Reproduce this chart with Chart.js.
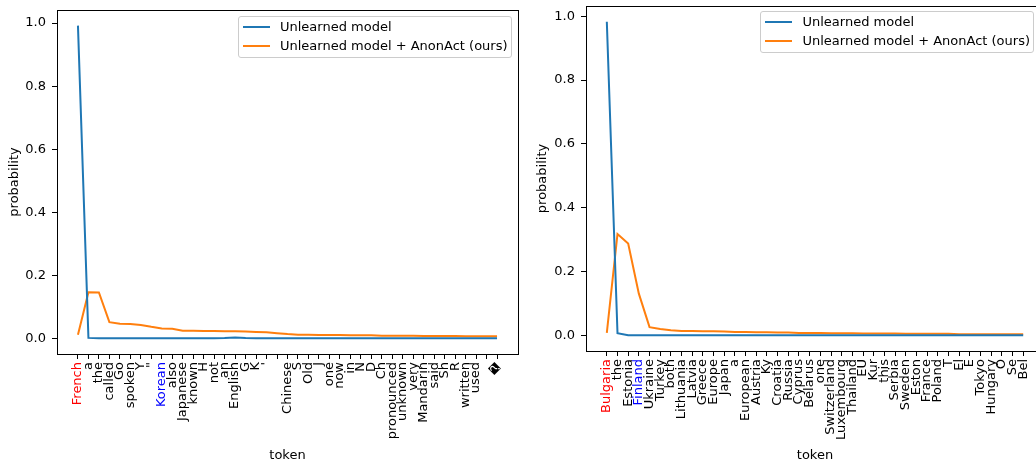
<!DOCTYPE html>
<html>
<head>
<meta charset="utf-8">
<script src="https://cdn.jsdelivr.net/npm/chart.js@4.4.0/dist/chart.umd.min.js"></script>
<style>
  html, body { margin: 0; padding: 0; background: #fff; }
  #stage { position: relative; width: 1036px; height: 461px; overflow: hidden; }
  canvas { position: absolute; top: 0; }
  #leftChart { left: 0; }
  #rightChart { left: 530px; }
  .legend { position: absolute; border: 1px solid #cccccc; border-radius: 3px; background: rgba(255,255,255,0.8);
            font: 13px "DejaVu Sans"; color: #000; padding: 0 3px 2px 4px; white-space: nowrap; }
  .legend .row { display: flex; align-items: center; height: 19px; }
  .legend .h { width: 27px; height: 0; border-top: 2px solid; margin-right: 10px; }
  #leftLegend { left: 238px; top: 16px; }
  #rightLegend { right: 2px; top: 11px; }
</style>
</head>
<body>
<div id="stage">
  <canvas id="leftChart" width="530" height="465"></canvas>
  <canvas id="rightChart" width="530" height="465"></canvas>
  <div class="legend" id="leftLegend"></div>
  <div class="legend" id="rightLegend"></div>
</div>
<script>
// series names and colours (matplotlib defaults)
const seriesNames = ['Unlearned model', 'Unlearned model + AnonAct (ours)'];
const seriesColors = ['#1f77b4', '#ff7f0e'];
const yTicks = [0, 0.2, 0.4, 0.6, 0.8, 1.0];

// left panel
const leftTokens = ['French', 'a', 'the', 'called', 'Go', 'spoken', 'Y', '"', 'Korean', 'also',
  'Japanese', 'known', 'H', 'not', 'an', 'English', 'G', 'K', "'", ' ',
  'Chinese', 'S', 'Old', 'J', 'one', 'now', 'in', 'N', 'D', 'Ch',
  'pronounced', 'unknown', 'very', 'Mandarin', 'said', 'Sh', 'R', 'written', 'used', ' ', '\uFFFD'];
const leftUnlearned = [0.992, 0.002, 0.001, 0.001, 0.001, 0.001, 0.001, 0.001, 0.001, 0.001,
  0.001, 0.001, 0.001, 0.001, 0.0015, 0.003, 0.0015, 0.001, 0.001, 0.001,
  0.001, 0.001, 0.0008, 0.0008, 0.0008, 0.0008, 0.0007, 0.0007, 0.0007, 0.0007,
  0.0006, 0.0006, 0.0006, 0.0006, 0.0006, 0.0005, 0.0005, 0.0005, 0.0005, 0.0005, 0.0005];
const leftAnonAct = [0.012, 0.147, 0.146, 0.052, 0.047, 0.046, 0.043, 0.037, 0.032, 0.031,
  0.025, 0.025, 0.024, 0.024, 0.023, 0.023, 0.022, 0.021, 0.020, 0.017,
  0.014, 0.012, 0.012, 0.011, 0.011, 0.011, 0.010, 0.010, 0.010, 0.009,
  0.009, 0.009, 0.009, 0.008, 0.008, 0.008, 0.008, 0.007, 0.007, 0.007, 0.007];
const leftRed = 0, leftBlue = 8;

// right panel
const rightTokens = ['Bulgaria', 'the', 'Estonia', 'Finland', 'Ukraine', 'Turkey', 'both', 'Lithuania', 'Latvia', 'Greece',
  'Europe', 'Japan', 'a', 'European', 'Austria', 'Ky', 'Croatia', 'Russia', 'Cyprus', 'Belarus',
  'one', 'Switzerland', 'Luxembourg', 'Thailand', 'EU', 'Kur', 'this', 'Serbia', 'Sweden', 'Eston',
  'France', 'Poland', 'T', 'El', 'E', 'Tokyo', 'Hungary', 'O', 'Se', 'Bel'];
const rightUnlearned = [0.983, 0.007, 0.001, 0.0008, 0.0008, 0.0008, 0.0007, 0.0007, 0.0007, 0.0007,
  0.0006, 0.0006, 0.0006, 0.0006, 0.0006, 0.0005, 0.0005, 0.0005, 0.0005, 0.0005,
  0.0005, 0.0005, 0.0005, 0.0005, 0.0004, 0.0004, 0.0004, 0.0004, 0.0004, 0.0004,
  0.0004, 0.0004, 0.0004, 0.0004, 0.0004, 0.0004, 0.0004, 0.0004, 0.0004, 0.0004];
const rightAnonAct = [0.008, 0.318, 0.288, 0.131, 0.026, 0.020, 0.016, 0.014, 0.014, 0.013,
  0.013, 0.012, 0.011, 0.011, 0.010, 0.010, 0.009, 0.009, 0.008, 0.008,
  0.008, 0.007, 0.007, 0.007, 0.006, 0.006, 0.006, 0.006, 0.005, 0.005,
  0.005, 0.005, 0.005, 0.004, 0.004, 0.004, 0.004, 0.004, 0.004, 0.004];
const rightRed = 0, rightBlue = 3;

Chart.defaults.font.family = 'DejaVu Sans';
Chart.defaults.font.size = 13;
Chart.defaults.color = '#000';

// full box round the plot area, like matplotlib spines
const framePlugin = {
  id: 'frame',
  afterDraw(chart) {
    const { ctx, chartArea: a } = chart;
    ctx.save();
    ctx.strokeStyle = '#000';
    ctx.lineWidth = 1;
    ctx.strokeRect(Math.round(a.left) + 0.5, Math.round(a.top) + 0.5,
      Math.round(a.right - a.left), Math.round(a.bottom - a.top));
    ctx.restore();
  }
};

function makeChart(id, tokens, unlearned, anon, redIdx, blueIdx, geo) {
  const all = unlearned.concat(anon);
  const lo = Math.min(...all), hi = Math.max(...all);
  const pad = (hi - lo) * 0.05;
  const n = tokens.length - 1;
  const toPts = arr => arr.map((v, i) => ({ x: i, y: v }));

  return new Chart(document.getElementById(id), {
    type: 'line',
    data: {
      datasets: [
        { label: seriesNames[0], data: toPts(unlearned), borderColor: seriesColors[0], borderWidth: 2, pointRadius: 0, tension: 0 },
        { label: seriesNames[1], data: toPts(anon), borderColor: seriesColors[1], borderWidth: 2, pointRadius: 0, tension: 0 }
      ]
    },
    options: {
      responsive: false,
      animation: false,
      devicePixelRatio: 1,
      layout: { padding: { left: 0, top: geo.top, right: geo.right, bottom: 0 } },
      plugins: { legend: { display: false }, tooltip: { enabled: false } },
      scales: {
        x: {
          type: 'linear',
          min: -n * 0.05,
          max: n * 1.05,
          afterBuildTicks: axis => { axis.ticks = tokens.map((_, i) => ({ value: i })); },
          afterFit: scale => {
            scale.height = geo.xHeight;
            scale.paddingLeft = 0;
            scale.paddingRight = 0;
          },
          ticks: {
            autoSkip: false,
            minRotation: 90,
            maxRotation: 90,
            padding: 3,
            callback: v => tokens[v],
            color: c => c.index === redIdx ? '#ff0000' : (c.index === blueIdx ? '#0000ff' : '#000')
          },
          grid: { drawOnChartArea: false, tickLength: 5, color: '#000' },
          border: { color: '#000' },
          title: { display: true, text: 'token', padding: { top: 0, bottom: 2 } }
        },
        y: {
          min: lo - pad,
          max: hi + pad,
          afterBuildTicks: axis => { axis.ticks = yTicks.map(v => ({ value: v })); },
          afterFit: scale => {
            scale.width = geo.yWidth;
            scale.paddingTop = 0;
            scale.paddingBottom = 0;
          },
          ticks: { padding: 6, callback: v => v.toFixed(1) },
          grid: { drawOnChartArea: false, tickLength: 5, color: '#000' },
          border: { color: '#000' },
          title: { display: true, text: 'probability', padding: { top: geo.titlePad, bottom: 0 } }
        }
      }
    },
    plugins: [framePlugin]
  });
}

function makeLegend(id) {
  const box = document.getElementById(id);
  seriesNames.forEach((name, i) => {
    const row = document.createElement('div');
    row.className = 'row';
    const h = document.createElement('span');
    h.className = 'h';
    h.style.borderColor = seriesColors[i];
    row.appendChild(h);
    row.appendChild(document.createTextNode(name));
    box.appendChild(row);
  });
}

makeChart('leftChart', leftTokens, leftUnlearned, leftAnonAct, leftRed, leftBlue,
  { top: 10, right: 12, xHeight: 111, yWidth: 57, titlePad: 7 });
// the right panel runs past the edge of the picture, as in the original
makeChart('rightChart', rightTokens, rightUnlearned, rightAnonAct, rightRed, rightBlue,
  { top: 6, right: 16, xHeight: 114, yWidth: 56, titlePad: 5 });
makeLegend('leftLegend');
makeLegend('rightLegend');
</script>
</body>
</html>
